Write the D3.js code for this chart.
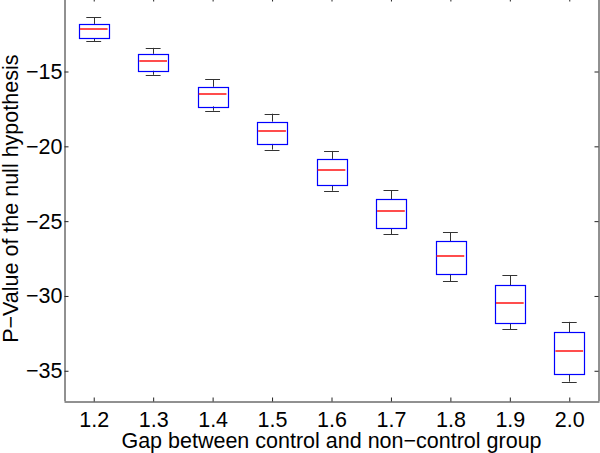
<!DOCTYPE html>
<html>
<head>
<meta charset="utf-8">
<script src="https://cdn.jsdelivr.net/npm/d3@7"></script>
<style>
	body { margin: 0; background: #fff; }
	svg { display: block; font-family: "Liberation Sans", Arial, sans-serif; }
</style>
</head>
<body>
<svg id="view" width="600" height="453"></svg>
<script>
'use strict';

// data
const gaps = ["1.2", "1.3", "1.4", "1.5", "1.6", "1.7", "1.8", "1.9", "2.0"];
const whiskerTop = [-11.37, -13.42, -15.53, -17.82, -20.31, -22.93, -25.73, -28.62, -31.73];
const q3 = [-11.82, -13.82, -16.02, -18.35, -20.84, -23.53, -26.35, -29.29, -32.42];
const medians = [-12.17, -14.27, -16.51, -19.0, -21.6, -24.35, -27.33, -30.44, -33.71];
const q1 = [-12.77, -14.95, -17.33, -19.84, -22.6, -25.49, -28.53, -31.82, -35.24];
const whiskerBottom = [-12.97, -15.22, -17.62, -20.22, -22.97, -25.89, -29.0, -32.24, -35.73];
const yTicks = [-35, -30, -25, -20, -15];

const svg = d3.select("#view");
const plotLeft = 64, plotRight = 599, plotTop = -3.3, plotBottom = 400.7;
const fontSize = 21.5;

const x = d3.scaleLinear().domain([0.5, gaps.length + 0.5]).range([plotLeft, plotRight]);
const y = d3.scaleLinear().domain([-37, -10]).range([plotBottom, plotTop]);

const boxes = gaps.map((g, i) => ({
	pos: i + 1, hi: whiskerTop[i], q3: q3[i], med: medians[i], q1: q1[i], lo: whiskerBottom[i]
}));

const crisp = v => Math.round(v) + 0.5;

// axes (MATLAB style: box with inward ticks)
const xAxis = d3.axisBottom(x).tickValues(boxes.map(d => d.pos))
	.tickFormat((d, i) => gaps[i]).tickSizeInner(-4).tickSizeOuter(0).tickPadding(10);
const yAxis = d3.axisLeft(y).tickValues(yTicks).tickFormat(d => String(d).replace("-", "\u2212"))
	.tickSizeInner(-4).tickSizeOuter(0).tickPadding(2);

svg.append("g").attr("transform", `translate(0,${crisp(plotBottom)})`).call(xAxis);
svg.append("g").attr("transform", `translate(${crisp(plotLeft)},0)`).call(yAxis);
svg.append("g").attr("transform", `translate(0,${crisp(plotTop)})`)
	.call(d3.axisTop(x).tickValues(boxes.map(d => d.pos)).tickFormat("").tickSizeInner(-4).tickSizeOuter(0));
svg.append("g").attr("transform", `translate(${crisp(plotRight) - 1},0)`)
	.call(d3.axisRight(y).tickValues(yTicks).tickFormat("").tickSizeInner(-4).tickSizeOuter(0));
svg.selectAll("g").attr("font-family", null).attr("font-size", fontSize);
svg.selectAll(".tick text").attr("fill", "#000");
svg.selectAll(".domain, .tick line").attr("stroke", "#222");

// boxes
const bw = x(1.25) - x(1);   // half box width
const cw = x(1.125) - x(1);  // half cap width
const g = svg.append("g").selectAll("g").data(boxes).join("g");

g.append("line")
	.attr("x1", d => crisp(x(d.pos))).attr("x2", d => crisp(x(d.pos)))
	.attr("y1", d => y(d.hi)).attr("y2", d => y(d.q3)).attr("stroke", "#333");
g.append("line")
	.attr("x1", d => crisp(x(d.pos))).attr("x2", d => crisp(x(d.pos)))
	.attr("y1", d => y(d.q1)).attr("y2", d => y(d.lo)).attr("stroke", "#333");
g.append("line")
	.attr("x1", d => x(d.pos) - cw).attr("x2", d => x(d.pos) + cw)
	.attr("y1", d => crisp(y(d.hi))).attr("y2", d => crisp(y(d.hi))).attr("stroke", "#333");
g.append("line")
	.attr("x1", d => x(d.pos) - cw).attr("x2", d => x(d.pos) + cw)
	.attr("y1", d => crisp(y(d.lo))).attr("y2", d => crisp(y(d.lo))).attr("stroke", "#333");
g.append("rect")
	.attr("x", d => crisp(x(d.pos) - bw)).attr("width", Math.round(2 * bw))
	.attr("y", d => crisp(y(d.q3))).attr("height", d => Math.round(y(d.q1) - y(d.q3)))
	.attr("fill", "none").attr("stroke", "#0000ff").attr("stroke-width", 1.2);
g.append("line")
	.attr("x1", d => x(d.pos) - bw + 1).attr("x2", d => x(d.pos) + bw - 1)
	.attr("y1", d => Math.round(y(d.med))).attr("y2", d => Math.round(y(d.med)))
	.attr("stroke", "#ff2020").attr("stroke-width", 1.6);

// labels
svg.append("text").attr("x", (plotLeft + plotRight) / 2).attr("y", 448)
	.attr("text-anchor", "middle").attr("font-size", fontSize)
	.text("Gap between control and non\u2212control group");
svg.append("text").attr("transform", "rotate(-90)")
	.attr("x", -(plotTop + plotBottom) / 2).attr("y", 17.5)
	.attr("text-anchor", "middle").attr("font-size", fontSize)
	.text("P\u2212Value of the null hypothesis");
</script>
</body>
</html>
